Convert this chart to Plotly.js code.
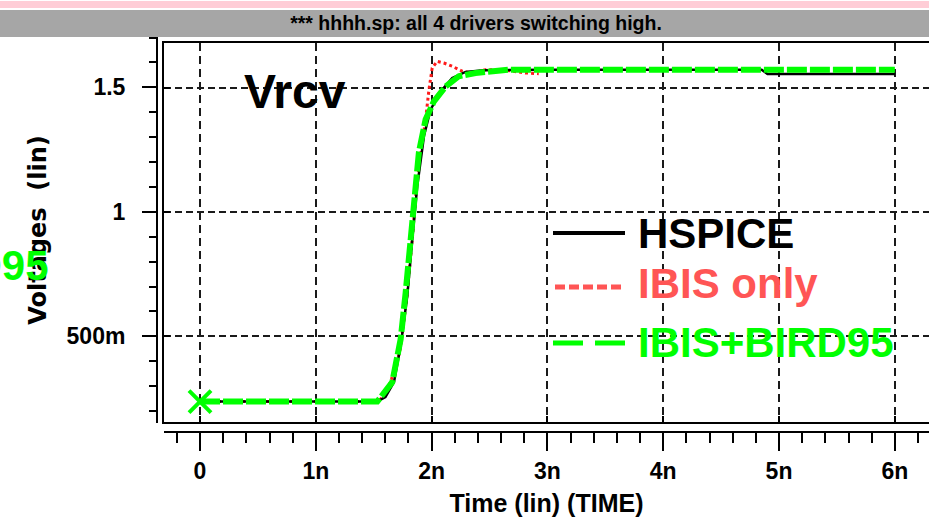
<!DOCTYPE html>
<html>
<head>
<meta charset="utf-8">
<script src="https://cdn.plot.ly/plotly-3.0.1.min.js"></script>
<style>
html,body{margin:0;padding:0;background:#fff;}
#chart{width:929px;height:522px;}
</style>
</head>
<body>
<div id="chart"></div>
<script>
// ---- data (time in ns, voltage in V) ----
const hspiceT = [0, 1.53, 1.601, 1.675, 1.733, 1.790, 1.833, 1.876, 1.934, 1.991, 2.091, 2.178, 2.293, 2.45, 3.0, 4.0, 4.85, 4.9, 6.0];
const hspiceV = [0.237, 0.237, 0.255, 0.315, 0.462, 0.663, 0.891, 1.105, 1.306, 1.413, 1.493, 1.540, 1.564, 1.571, 1.573, 1.573, 1.573, 1.556, 1.556];

const ibisT = [0, 1.53, 1.60, 1.655, 1.724, 1.781, 1.833, 1.867, 1.905, 1.948, 1.977, 2.005, 2.048, 2.106, 2.178, 2.264, 2.350, 2.465, 2.609, 2.810, 2.925];
const ibisV = [0.237, 0.237, 0.262, 0.330, 0.436, 0.637, 0.891, 1.092, 1.232, 1.373, 1.493, 1.580, 1.607, 1.600, 1.587, 1.567, 1.560, 1.573, 1.573, 1.560, 1.557];

const birdT = [0, 1.531, 1.660, 1.733, 1.776, 1.819, 1.847, 1.890, 1.948, 2.020, 2.121, 2.235, 2.379, 2.666, 6.0];
const birdV = [0.237, 0.237, 0.315, 0.489, 0.677, 0.891, 1.051, 1.240, 1.373, 1.446, 1.506, 1.547, 1.560, 1.573, 1.573];

const xTickVals = [0, 1, 2, 3, 4, 5, 6];
const xTickText = ['0', '1n', '2n', '3n', '4n', '5n', '6n'];
const yTickVals = [0.5, 1, 1.5];
const yTickText = ['500m', '1', '1.5'];

const titleText = '*** hhhh.sp: all 4 drivers switching high.';
const signalName = 'Vrcv';
const seriesNames = ['HSPICE', 'IBIS only', 'IBIS+BIRD95'];
const xTitle = 'Time (lin) (TIME)';
const yTitle = 'Voltages\u00a0 (lin)';

// ---- styling ----
const SANS = 'Liberation Sans, Arial, Helvetica, sans-serif';
const GREEN = '#00ff00';
const RED = '#ff1a1a';
const LRED = '#ff5555';

const traces = [
  {x: ibisT, y: ibisV, mode: 'lines', name: seriesNames[1],
   line: {color: RED, width: 3, dash: '3px,3px'}, xaxis: 'x', yaxis: 'y'},
  {x: hspiceT, y: hspiceV, mode: 'lines', name: seriesNames[0],
   line: {color: '#000000', width: 2.5}, xaxis: 'x', yaxis: 'y'},
  {x: birdT, y: birdV, mode: 'lines', name: seriesNames[2],
   line: {color: GREEN, width: 6, dash: '20px,3px'}, xaxis: 'x', yaxis: 'y'},
  {x: [birdT[0]], y: [birdV[0]], mode: 'markers', name: 'start',
   marker: {symbol: 'x-thin', size: 22, line: {color: GREEN, width: 4}}, xaxis: 'x', yaxis: 'y'},
  {x: [], y: [], xaxis: 'x2', yaxis: 'y2', mode: 'lines', hoverinfo: 'skip'}
];

const xr = [-0.311, 6.295];
const W = 772, H = 395; // paper size
const px = v => (v - 157) / W;
const py = v => (432 - v) / H;

const layout = {
  width: 929, height: 522,
  paper_bgcolor: '#ffffff', plot_bgcolor: 'rgba(0,0,0,0)',
  margin: {l: 157, r: 0, t: 37, b: 90, pad: 0},
  showlegend: false,
  title: {text: titleText, x: 0.5124, xref: 'container', xanchor: 'center',
          y: 1 - 23 / 522, yref: 'container', yanchor: 'middle',
          font: {family: SANS, size: 19.5, color: '#000', weight: 'bold'}},
  xaxis: {domain: [px(164), 1], range: xr, anchor: 'y',
          showline: true, linecolor: '#000', linewidth: 2, mirror: true,
          tickvals: xTickVals, ticktext: xTickText, showticklabels: false,
          ticks: 'inside', ticklen: 6, tickwidth: 2, tickcolor: '#000',
          showgrid: true, gridcolor: '#1a1a1a', gridwidth: 2, griddash: '8px,5px',
          zeroline: false, fixedrange: true},
  yaxis: {domain: [py(422), py(43)], range: [0.1546, 1.6807], anchor: 'x',
          showline: true, linecolor: '#000', linewidth: 2, mirror: false,
          tickvals: yTickVals, ticktext: yTickText, showticklabels: false,
          ticks: 'inside', ticklen: 6, tickwidth: 2, tickcolor: '#000',
          showgrid: true, gridcolor: '#1a1a1a', gridwidth: 2, griddash: '7px,4px',
          zeroline: false, fixedrange: true},
  xaxis2: {domain: [px(164), 1], range: xr, anchor: 'free', position: 0, side: 'bottom',
           showline: true, linecolor: '#000', linewidth: 2,
           tickvals: xTickVals, ticktext: xTickText,
           ticks: 'outside', ticklen: 18, tickwidth: 2, tickcolor: '#000',
           minor: {dtick: 0.2, tick0: 0, ticks: 'outside', ticklen: 10, tickwidth: 2, tickcolor: '#000', showgrid: false},
           ticklabelstandoff: 0,
           tickfont: {family: SANS, size: 23, color: '#000', weight: 'bold'},
           title: {text: xTitle, standoff: 11, font: {family: SANS, size: 25, color: '#000', weight: 'bold'}},
           showgrid: false, zeroline: false, fixedrange: true},
  yaxis2: {domain: [py(423), 1], range: [0.152, 1.702], anchor: 'free', position: 0, side: 'left',
           showline: true, linecolor: '#000', linewidth: 2,
           tickvals: yTickVals, ticktext: yTickText,
           ticks: 'outside', ticklen: 14, tickwidth: 2, tickcolor: '#000',
           minor: {dtick: 0.1, tick0: 0, ticks: 'outside', ticklen: 7, tickwidth: 2, tickcolor: '#000', showgrid: false},
           ticklabelstandoff: 12,
           tickfont: {family: SANS, size: 23, color: '#000', weight: 'bold'},
           title: {text: yTitle, standoff: 12, font: {family: 'DejaVu Sans, sans-serif', size: 24, color: '#000', weight: 'bold'}},
           showgrid: false, zeroline: false, fixedrange: true},
  shapes: [
    {type: 'rect', xref: 'paper', yref: 'paper', x0: px(0), x1: 1, y0: py(8), y1: py(1),
     fillcolor: '#ffcdd6', line: {width: 0}, layer: 'below'},
    {type: 'rect', xref: 'paper', yref: 'paper', x0: px(0), x1: 1, y0: py(37), y1: py(10),
     fillcolor: '#a6a6a6', line: {width: 0}, layer: 'below'},
    {type: 'line', xref: 'paper', yref: 'paper', x0: px(553), x1: px(625), y0: py(233), y1: py(233),
     line: {color: '#000', width: 4}},
    {type: 'line', xref: 'paper', yref: 'paper', x0: px(555), x1: px(625), y0: py(287), y1: py(287),
     line: {color: LRED, width: 5, dash: '10px,4px'}},
    {type: 'line', xref: 'paper', yref: 'paper', x0: px(553), x1: px(625), y0: py(343), y1: py(343),
     line: {color: GREEN, width: 5, dash: '30px,12px'}}
  ],
  annotations: [
    {text: signalName, xref: 'paper', yref: 'paper', x: px(295), y: py(92), xanchor: 'center', yanchor: 'middle',
     showarrow: false, font: {family: SANS, size: 48, color: '#000', weight: 'bold'}},
    {text: seriesNames[0], xref: 'paper', yref: 'paper', x: px(636), y: py(233), xanchor: 'left', yanchor: 'middle',
     showarrow: false, font: {family: SANS, size: 42, color: '#000', weight: 'bold'}},
    {text: seriesNames[1], xref: 'paper', yref: 'paper', x: px(636), y: py(283), xanchor: 'left', yanchor: 'middle',
     showarrow: false, font: {family: SANS, size: 42, color: LRED, weight: 'bold'}},
    {text: seriesNames[2], xref: 'paper', yref: 'paper', x: px(636), y: py(342), xanchor: 'left', yanchor: 'middle',
     showarrow: false, font: {family: SANS, size: 42, color: GREEN, weight: 'bold'}},
    {text: seriesNames[2], xref: 'paper', yref: 'paper', x: px(51), y: py(265), xanchor: 'right', yanchor: 'middle',
     showarrow: false, font: {family: SANS, size: 42, color: GREEN, weight: 'bold'}}
  ]
};

Plotly.newPlot('chart', traces, layout, {displayModeBar: false, staticPlot: true});
</script>
</body>
</html>
